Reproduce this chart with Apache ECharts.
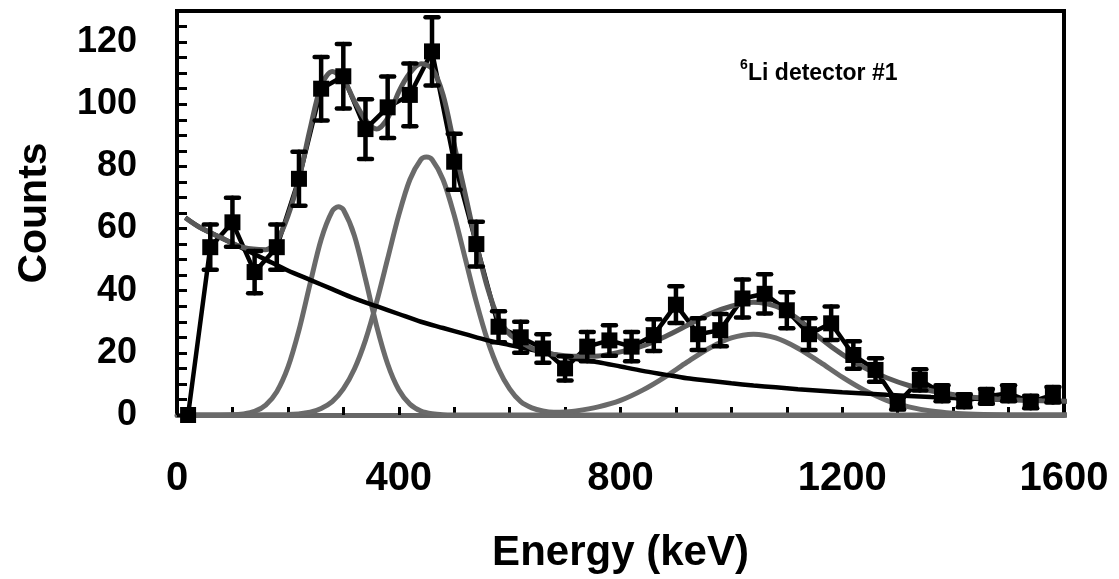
<!DOCTYPE html>
<html><head><meta charset="utf-8">
<script src="https://cdn.jsdelivr.net/npm/echarts/dist/echarts.min.js"></script>
<style>html,body{margin:0;padding:0;background:#fff}#c{width:1119px;height:579px}</style>
</head><body><div id="c"></div>
<script>
// measured spectrum points (Energy keV, Counts, error)
const ptX = [20,60,100,140,180,220,260,300,340,380,420,460,500,540,580,620,660,700,740,780,820,860,900,940,980,1020,1060,1100,1140,1180,1220,1260,1300,1340,1380,1420,1460,1500,1540,1580];
const ptY = [0,54,62,46,54,76,105,109,92,99,103,117,81.5,55,28.4,25,21.4,15,22,24,22,25.7,35.5,26,27.3,37.5,39,33.7,26,29.5,19.3,14.5,3.8,11.3,7,4.6,6,7,4.2,6.5];
const ptErr = [0,7.3,7.9,6.8,7.3,8.7,10.2,10.4,9.6,9.9,10.1,11,9,7.2,5,5,4.6,3.9,4.7,4.9,4.7,5.1,5.9,5.1,5.2,6.1,6.3,5.8,5.1,5.4,4.4,3.8,2,3.4,2.6,2.1,2.4,2.6,2,2.5];

// background curve (black)
const bgX = [15,40,80,120,160,200,240,280,320,360,400,440,480,520,560,600,640,680,720,760,800,840,880,920,960,1000,1040,1080,1120,1160,1200,1280,1360,1440,1520,1615];
const bgY = [63.5,60.5,57,53.5,50,46.5,43.5,40.5,37.5,35,32.5,30,28,26,24,22.5,21,19.5,18,17,15.6,14.2,13,11.8,11,10.2,9.5,8.9,8.3,7.8,7.3,6.5,5.8,5.2,4.8,4.4];

// first peak component (grey)
const g1X = [20,100,120,140,160,180,200,220,240,260,280,291,300,320,340,360,380,400,420,440,460,480,520,1615];
const g1Y = [0,0.1,0.37,1.16,3.2,7.5,15.3,27.3,42.2,56.5,65.6,67,66.1,57.7,43.7,28.7,16.4,8.1,3.5,1.3,0.4,0.1,0,0];

// second + third peak components (grey)
const g23X = [20,200,240,260,280,300,320,340,360,380,400,420,440,450,460,480,500,520,540,560,580,600,620,640,660,680,700,720,760,800,840,880,920,960,1000,1040,1080,1120,1160,1200,1240,1280,1320,1360,1400,1440,1480,1520,1615];
const g23Y = [0,0.14,0.9,2.1,4.3,8.4,14.8,24.1,36.3,50.3,64.3,75.7,82.2,83,82.2,75.7,64.3,50.3,36.3,24.1,14.8,8.4,4.3,2.3,1.3,0.9,1.0,1.3,2.6,4.7,8.0,12.2,17,21.5,24.8,26,24.8,21.5,17,12.2,8.0,4.7,2.6,1.26,0.56,0.23,0.08,0,0];

// total fit (grey)
const totX = [15,40,80,120,160,180,200,220,240,260,280,300,320,340,360,380,400,420,440,460,480,500,520,540,560,580,600,620,640,660,680,700,720,760,800,840,880,920,960,1000,1040,1080,1120,1160,1200,1240,1280,1320,1360,1400,1440,1480,1520,1560,1615];
const totY = [63.5,60.5,57,53.9,53.2,56,64,76,92,106,110.5,108,101,95,92,95.5,104,110,113,111.5,103,87,71,55,41,31,26,23.5,21.5,20.3,19.5,19.1,18.9,19.0,20.3,22.2,25.2,28.8,32.5,35,36.3,35,31,24.8,19.5,15.2,12,9.5,7.8,6.6,5.6,5.1,4.8,4.6,4.4];

const xLabelStep = 400;
const yLabelStep = 20;

const zip = (a, b) => a.map((v, i) => [v, b[i]]);
const FONT = 'Liberation Sans, Arial, sans-serif';
const GREY = '#6a6a6a';

const chart = echarts.init(document.getElementById('c'), null, {renderer: 'canvas'});
chart.setOption({
  animation: false,
  backgroundColor: '#fff',
  grid: {left: 177, right: 55, top: 11, bottom: 162, show: true, borderColor: '#000', borderWidth: 4, backgroundColor: 'transparent'},
  xAxis: {
    type: 'value', min: 0, max: 1600, interval: 100,
    name: 'Energy (keV)', nameLocation: 'middle', nameGap: 117,
    nameTextStyle: {fontFamily: FONT, fontWeight: 'bold', fontSize: 42, color: '#000'},
    axisLine: {show: true, lineStyle: {color: '#666', width: 5}},
    axisTick: {show: true, inside: true, length: 8, lineStyle: {color: '#000', width: 3}},
    axisLabel: {margin: 44, fontFamily: FONT, fontWeight: 'bold', fontSize: 40, color: '#000',
      formatter: v => (v % xLabelStep === 0 ? String(v) : '')},
    splitLine: {show: false}
  },
  yAxis: {
    type: 'value', min: 0, max: 130, interval: 5,
    name: 'Counts', nameLocation: 'middle', nameGap: 122, nameRotate: 90,
    nameTextStyle: {fontFamily: FONT, fontWeight: 'bold', fontSize: 41, color: '#000'},
    axisLine: {show: true, lineStyle: {color: '#000', width: 4}},
    axisTick: {show: true, inside: true, length: 10, lineStyle: {color: '#000', width: 3}},
    axisLabel: {margin: 40, fontFamily: FONT, fontWeight: 'bold', fontSize: 36, color: '#000',
      formatter: v => (v % yLabelStep === 0 ? String(v) : '')},
    splitLine: {show: false}
  },
  graphic: [
    {type: 'text', left: 740, top: 58, z: 100, style: {text: '6', font: 'bold 14px ' + FONT, fill: '#000'}},
    {type: 'text', left: 748, top: 62, z: 100, style: {text: 'Li detector #1', font: 'bold 23px ' + FONT, fill: '#000'}}
  ],
  series: [
    {type: 'line', data: zip(g1X, g1Y), showSymbol: false, smooth: 0.3, clip: false, z: 2,
      lineStyle: {color: GREY, width: 5}},
    {type: 'line', data: zip(g23X, g23Y), showSymbol: false, smooth: 0.3, clip: false, z: 2,
      lineStyle: {color: GREY, width: 5}},
    {type: 'line', data: zip(bgX, bgY), showSymbol: false, smooth: 0.3, clip: false, z: 3,
      lineStyle: {color: '#000', width: 4.5}},
    {type: 'line', data: zip(ptX, ptY), showSymbol: false, smooth: false, clip: false, z: 4,
      lineStyle: {color: '#000', width: 4.5}},
    {type: 'line', data: zip(totX, totY), showSymbol: false, smooth: 0.3, clip: false, z: 5,
      lineStyle: {color: '#585858', width: 5}},
    {type: 'custom', z: 6, clip: false,
      data: ptX.map((x, i) => [x, ptY[i], ptErr[i]]),
      renderItem: function (params, api) {
        const x = api.value(0), y = api.value(1), e = api.value(2);
        if (!(e > 0)) return null;
        const t = api.coord([x, y + e]);
        const b = api.coord([x, y - e]);
        const hw = 6.5;
        const st = {stroke: '#000', lineWidth: 4.5, lineCap: 'round'};
        return {type: 'group', children: [
          {type: 'line', shape: {x1: t[0], y1: t[1], x2: b[0], y2: b[1]}, style: st},
          {type: 'line', shape: {x1: t[0] - hw, y1: t[1], x2: t[0] + hw, y2: t[1]}, style: st},
          {type: 'line', shape: {x1: b[0] - hw, y1: b[1], x2: b[0] + hw, y2: b[1]}, style: st}
        ]};
      }
    },
    {type: 'scatter', data: zip(ptX, ptY), symbol: 'rect', symbolSize: 16, z: 7, clip: false,
      itemStyle: {color: '#000', opacity: 1}}
  ]
});
</script>
</body></html>
